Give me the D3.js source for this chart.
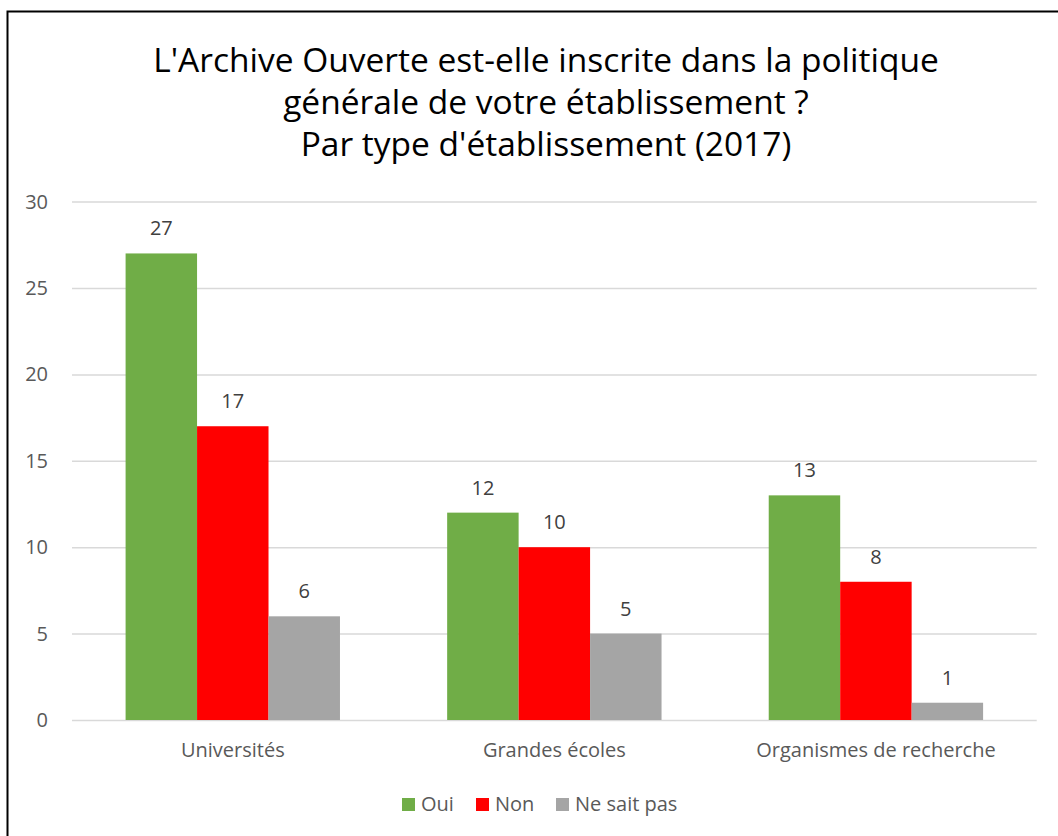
<!DOCTYPE html>
<html>
<head>
<meta charset="utf-8">
<script src="https://cdn.jsdelivr.net/npm/d3@7"></script>
<style>
  body { margin: 0; background: #fff; }
  svg text { font-family: "Open Sans", "Noto Sans", sans-serif; }
</style>
</head>
<body>
<div id="container"></div>
<script>
// data
const categories = ["Universités", "Grandes écoles", "Organismes de recherche"];
const series = ["Oui", "Non", "Ne sait pas"];
const oui = [27, 12, 13];
const non = [17, 10, 8];
const neSaitPas = [6, 5, 1];
const yTicks = [0, 5, 10, 15, 20, 25, 30];
const titleLines = [
  "L'Archive Ouverte est-elle inscrite dans la politique",
  "générale de votre établissement ?",
  "Par type d'établissement (2017)"
];

const colors = { "Oui": "#70ad47", "Non": "#ff0000", "Ne sait pas": "#a5a5a5" };
const values = { "Oui": oui, "Non": non, "Ne sait pas": neSaitPas };

// canvas
const w = 1058;
const h = 836;
const plotLeft = 72, plotRight = 1036.7, plotTop = 201.6, plotBottom = 720;

const svg = d3.select("#container")
  .append("svg")
  .attr("width", w)
  .attr("height", h);

// frame (right and bottom edges fall outside the picture)
svg.append("rect")
  .attr("x", 7.5)
  .attr("y", 11.5)
  .attr("width", 1200)
  .attr("height", 1000)
  .attr("fill", "none")
  .attr("stroke", "#000")
  .attr("stroke-width", 2);

// scales
const x0 = d3.scaleBand()
  .domain(categories)
  .range([plotLeft, plotRight])
  .paddingInner(1 / 3)
  .paddingOuter(1 / 6);

const x1 = d3.scaleBand()
  .domain(series)
  .range([0, x0.bandwidth()]);

const yScale = d3.scaleLinear()
  .domain([0, 30])
  .range([plotBottom, plotTop]);

// gridlines + y labels
const yAxis = d3.axisLeft(yScale)
  .tickValues(yTicks)
  .tickSize(-(plotRight - plotLeft))
  .tickPadding(24);

const gy = svg.append("g")
  .attr("transform", "translate(" + plotLeft + ",0)")
  .call(yAxis);
gy.select(".domain").remove();
gy.selectAll(".tick line")
  .attr("stroke", "#d9d9d9")
  .attr("stroke-width", 1.5);
gy.selectAll(".tick text")
  .attr("fill", "#595959")
  .style("font-size", "20px");

// bars
const rows = [];
categories.forEach(function(c, i) {
  series.forEach(function(s) {
    rows.push({ cat: c, key: s, value: values[s][i] });
  });
});

svg.selectAll("rect.bar")
  .data(rows)
  .enter()
  .append("rect")
  .attr("class", "bar")
  .attr("x", (d) => x0(d.cat) + x1(d.key))
  .attr("y", (d) => yScale(d.value))
  .attr("width", x1.bandwidth())
  .attr("height", (d) => yScale(0) - yScale(d.value))
  .attr("fill", (d) => colors[d.key]);

// data labels
svg.selectAll("text.val")
  .data(rows)
  .enter()
  .append("text")
  .attr("class", "val")
  .attr("x", (d) => x0(d.cat) + x1(d.key) + x1.bandwidth() / 2)
  .attr("y", (d) => yScale(d.value) - 18)
  .attr("text-anchor", "middle")
  .attr("fill", "#404040")
  .style("font-size", "20px")
  .text((d) => d.value);

// x axis labels
const xAxis = d3.axisBottom(x0).tickSize(0).tickPadding(23);
const gx = svg.append("g")
  .attr("transform", "translate(0," + plotBottom + ")")
  .call(xAxis);
gx.select(".domain").remove();
gx.selectAll(".tick text")
  .attr("fill", "#595959")
  .style("font-size", "20px");

// title
svg.append("g")
  .selectAll("text")
  .data(titleLines)
  .enter()
  .append("text")
  .attr("x", 546)
  .attr("y", (d, i) => 72 + i * 42)
  .attr("text-anchor", "middle")
  .attr("fill", "#000")
  .style("font-size", "33.5px")
  .text((d) => d);

// legend
const legendX = [402, 476, 556];
const legend = svg.append("g")
  .selectAll("g")
  .data(series)
  .enter()
  .append("g")
  .attr("transform", (d, i) => "translate(" + legendX[i] + ",798)");

legend.append("rect")
  .attr("width", 13)
  .attr("height", 13)
  .attr("fill", (d) => colors[d]);

legend.append("text")
  .attr("x", 19)
  .attr("y", 13)
  .attr("fill", "#595959")
  .style("font-size", "20px")
  .text((d) => d);
</script>
</body>
</html>
